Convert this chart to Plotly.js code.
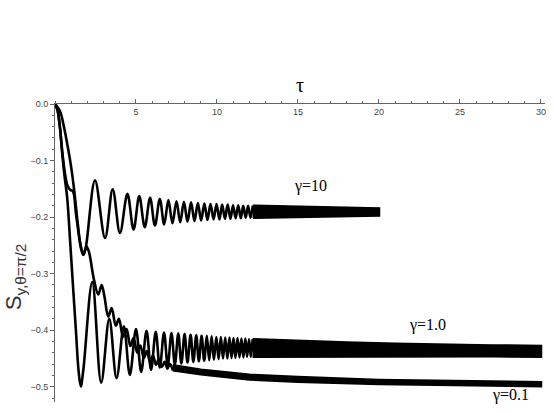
<!DOCTYPE html>
<html>
<head>
<meta charset="utf-8">
<script src="https://cdn.plot.ly/plotly-3.0.1.min.js"></script>
<style>
  html, body { margin: 0; padding: 0; background: #fff; }
  #chart { width: 554px; height: 412px; }
</style>
</head>
<body>
<div id="chart"></div>
<script>
// values: transient points, then the visible peaks / troughs
const g10T = [0, 0.3, 0.55, 0.82, 1.0, 1.17, 1.4, 1.6, 1.75, 1.9,
  2.47, 3.09, 3.56, 4.01, 4.47, 4.85, 5.2, 5.54, 5.87, 6.17,
  6.47, 6.74, 7.0, 7.25, 7.5, 7.73, 7.96, 8.18, 8.4, 8.61,
  8.82, 9.02, 9.22, 9.41, 9.6, 9.79, 9.97, 10.15, 10.32, 10.49,
  10.66, 10.83, 10.99, 11.15, 11.31, 11.47, 11.62, 11.77, 11.92, 12.07, 12.21];
const g10S = [0, -0.012, -0.04, -0.081, -0.112, -0.149, -0.21, -0.255, -0.267, -0.254,
  -0.135, -0.237, -0.151, -0.228, -0.159, -0.222, -0.163, -0.218, -0.166, -0.215,
  -0.168, -0.213, -0.170, -0.211, -0.172, -0.209, -0.173, -0.208, -0.174, -0.207,
  -0.175, -0.206, -0.176, -0.205, -0.177, -0.204, -0.177, -0.204, -0.178, -0.203,
  -0.178, -0.203, -0.179, -0.202, -0.179, -0.202, -0.180, -0.201, -0.180, -0.201, -0.180];

const g1T = [0, 0.15, 0.3, 0.45, 0.6, 0.75, 0.95, 1.13, 1.3, 1.45, 1.59, 1.75,
  2.3, 2.85, 3.35, 3.8, 4.25, 4.62, 5.0, 5.32, 5.65, 5.93,
  6.22, 6.47, 6.73, 6.96, 7.19, 7.4, 7.61, 7.8, 8.0, 8.18,
  8.37, 8.54, 8.72, 8.88, 9.05, 9.21, 9.37, 9.52, 9.67, 9.81,
  9.96, 10.1, 10.24, 10.37, 10.51, 10.64, 10.77, 10.9, 11.02, 11.14,
  11.27, 11.39, 11.51, 11.63, 11.75, 11.86, 11.98, 12.09, 12.2];
const g1S = [0, -0.01, -0.04, -0.088, -0.13, -0.165, -0.25, -0.33, -0.405, -0.47, -0.4995, -0.47,
  -0.315, -0.493, -0.38, -0.485, -0.393, -0.479, -0.398, -0.474, -0.401, -0.47,
  -0.403, -0.466, -0.404, -0.463, -0.405, -0.461, -0.406, -0.459, -0.407, -0.457,
  -0.408, -0.456, -0.409, -0.455, -0.41, -0.454, -0.41, -0.453, -0.411, -0.452,
  -0.412, -0.451, -0.412, -0.45, -0.413, -0.45, -0.413, -0.449, -0.414, -0.449,
  -0.414, -0.448, -0.415, -0.448, -0.415, -0.447, -0.416, -0.447, -0.416];

const g01T = [0, 0.15, 0.3, 0.45, 0.6, 0.78, 0.95, 1.1, 1.3, 1.55,
  1.75, 1.95, 2.1, 2.4, 2.67, 2.88, 3.05, 3.29, 3.5, 3.75,
  3.95, 4.2, 4.42, 4.65, 4.85, 5.08, 5.27, 5.48, 5.67, 5.87,
  6.05, 6.24, 6.42, 6.6, 6.77, 6.94, 7.1, 7.27];
const g01S = [0, -0.01, -0.04, -0.085, -0.12, -0.145, -0.152, -0.154, -0.195, -0.245,
  -0.266, -0.252, -0.262, -0.31, -0.337, -0.32, -0.34, -0.376, -0.361, -0.392,
  -0.38, -0.412, -0.398, -0.428, -0.414, -0.44, -0.427, -0.449, -0.437, -0.456,
  -0.445, -0.461, -0.451, -0.465, -0.456, -0.468, -0.46, -0.471];

// where the oscillation is too fast to resolve the picture shows a solid band
const g10BandT = [12.21, 14, 16, 18, 20];
const g10BandHi = [-0.180, -0.181, -0.182, -0.183, -0.185];
const g10BandLo = [-0.201, -0.200, -0.199, -0.198, -0.197];

const g1BandT = [12.2, 15, 18, 21, 24, 27, 30];
const g1BandHi = [-0.416, -0.419, -0.422, -0.424, -0.426, -0.427, -0.428];
const g1BandLo = [-0.447, -0.446, -0.446, -0.446, -0.446, -0.446, -0.447];

const g01BandT = [7.27, 9, 12, 15, 20, 25, 30];
const g01BandHi = [-0.462, -0.470, -0.479, -0.483, -0.488, -0.490, -0.492];
const g01BandLo = [-0.471, -0.478, -0.487, -0.491, -0.495, -0.497, -0.499];

const xTicks = [5, 10, 15, 20, 25, 30];
const yTicks = [0, -0.1, -0.2, -0.3, -0.4, -0.5];
const yTickText = ['0.0', '\u22120.1', '\u22120.2', '\u22120.3', '\u22120.4', '\u22120.5'];
const labels = [
  { text: 'γ=10', x: 15.8, y: -0.145 },
  { text: 'γ=1.0', x: 23.0, y: -0.39 },
  { text: 'γ=0.1', x: 28.1, y: -0.514 },
];

const LW = 2.6;

function curve(x, y) {
  return {
    x: x, y: y, type: 'scatter', mode: 'lines', hoverinfo: 'skip',
    line: { color: '#000', width: LW, shape: 'spline', smoothing: 1 },
  };
}

function band(t, hi, lo) {
  return {
    x: t.concat(t.slice().reverse()),
    y: hi.concat(lo.slice().reverse()),
    type: 'scatter', mode: 'lines', fill: 'toself', fillcolor: '#000', hoverinfo: 'skip',
    line: { color: '#000', width: LW },
  };
}

const traces = [
  curve(g10T, g10S), band(g10BandT, g10BandHi, g10BandLo),
  curve(g1T, g1S), band(g1BandT, g1BandHi, g1BandLo),
  curve(g01T, g01S), band(g01BandT, g01BandHi, g01BandLo),
];

const axisGray = '#666';

const layout = {
  width: 554,
  height: 412,
  margin: { l: 55, r: 9, t: 104, b: 10 },
  paper_bgcolor: '#fff',
  plot_bgcolor: '#fff',
  showlegend: false,
  font: { family: 'Liberation Sans, Arial, sans-serif', size: 9, color: '#444' },
  xaxis: {
    range: [0, 30.25],
    side: 'top',
    showline: true, linecolor: axisGray, linewidth: 1,
    ticks: 'outside', ticklen: 4, tickcolor: axisGray,
    tickmode: 'array', tickvals: xTicks, ticktext: xTicks.map(String),
    ticklabelposition: 'inside', ticklabeloverflow: 'allow', ticklabelstandoff: 4,
    showgrid: false, zeroline: false,
    minor: { ticks: 'outside', ticklen: 2, tickmode: 'linear', tick0: 0, dtick: 1, tickcolor: axisGray, showgrid: false },
  },
  yaxis: {
    range: [-0.527, 0],
    showline: true, linecolor: axisGray, linewidth: 1,
    ticks: 'outside', ticklen: 4, tickcolor: axisGray,
    tickmode: 'array', tickvals: yTicks, ticktext: yTickText,
    ticklabeloverflow: 'allow',
    showgrid: false, zeroline: false,
    minor: { ticks: 'outside', ticklen: 2, tickmode: 'linear', tick0: 0, dtick: 0.02, tickcolor: axisGray, showgrid: false },
  },
  annotations: labels.map(l => ({
    text: l.text, x: l.x, y: l.y, xref: 'x', yref: 'y', showarrow: false,
    font: { family: 'Liberation Serif, Times New Roman, serif', size: 16, color: '#000' },
  })).concat([
    {
      text: 'τ', xref: 'x', yref: 'paper', x: 15.1, y: 1.064, yanchor: 'middle', showarrow: false,
      font: { family: 'Liberation Serif, Times New Roman, serif', size: 20, color: '#000' },
    },
    {
      text: 'S<sub>y,θ=π/2</sub>', xref: 'paper', yref: 'y', x: -0.08, y: -0.305,
      xanchor: 'center', yanchor: 'middle',
      textangle: -90, showarrow: false,
      font: { family: 'Liberation Sans, Arial, sans-serif', size: 22, color: '#333' },
    },
  ]),
};

Plotly.newPlot('chart', traces, layout, { displayModeBar: false, staticPlot: true });
</script>
</body>
</html>
